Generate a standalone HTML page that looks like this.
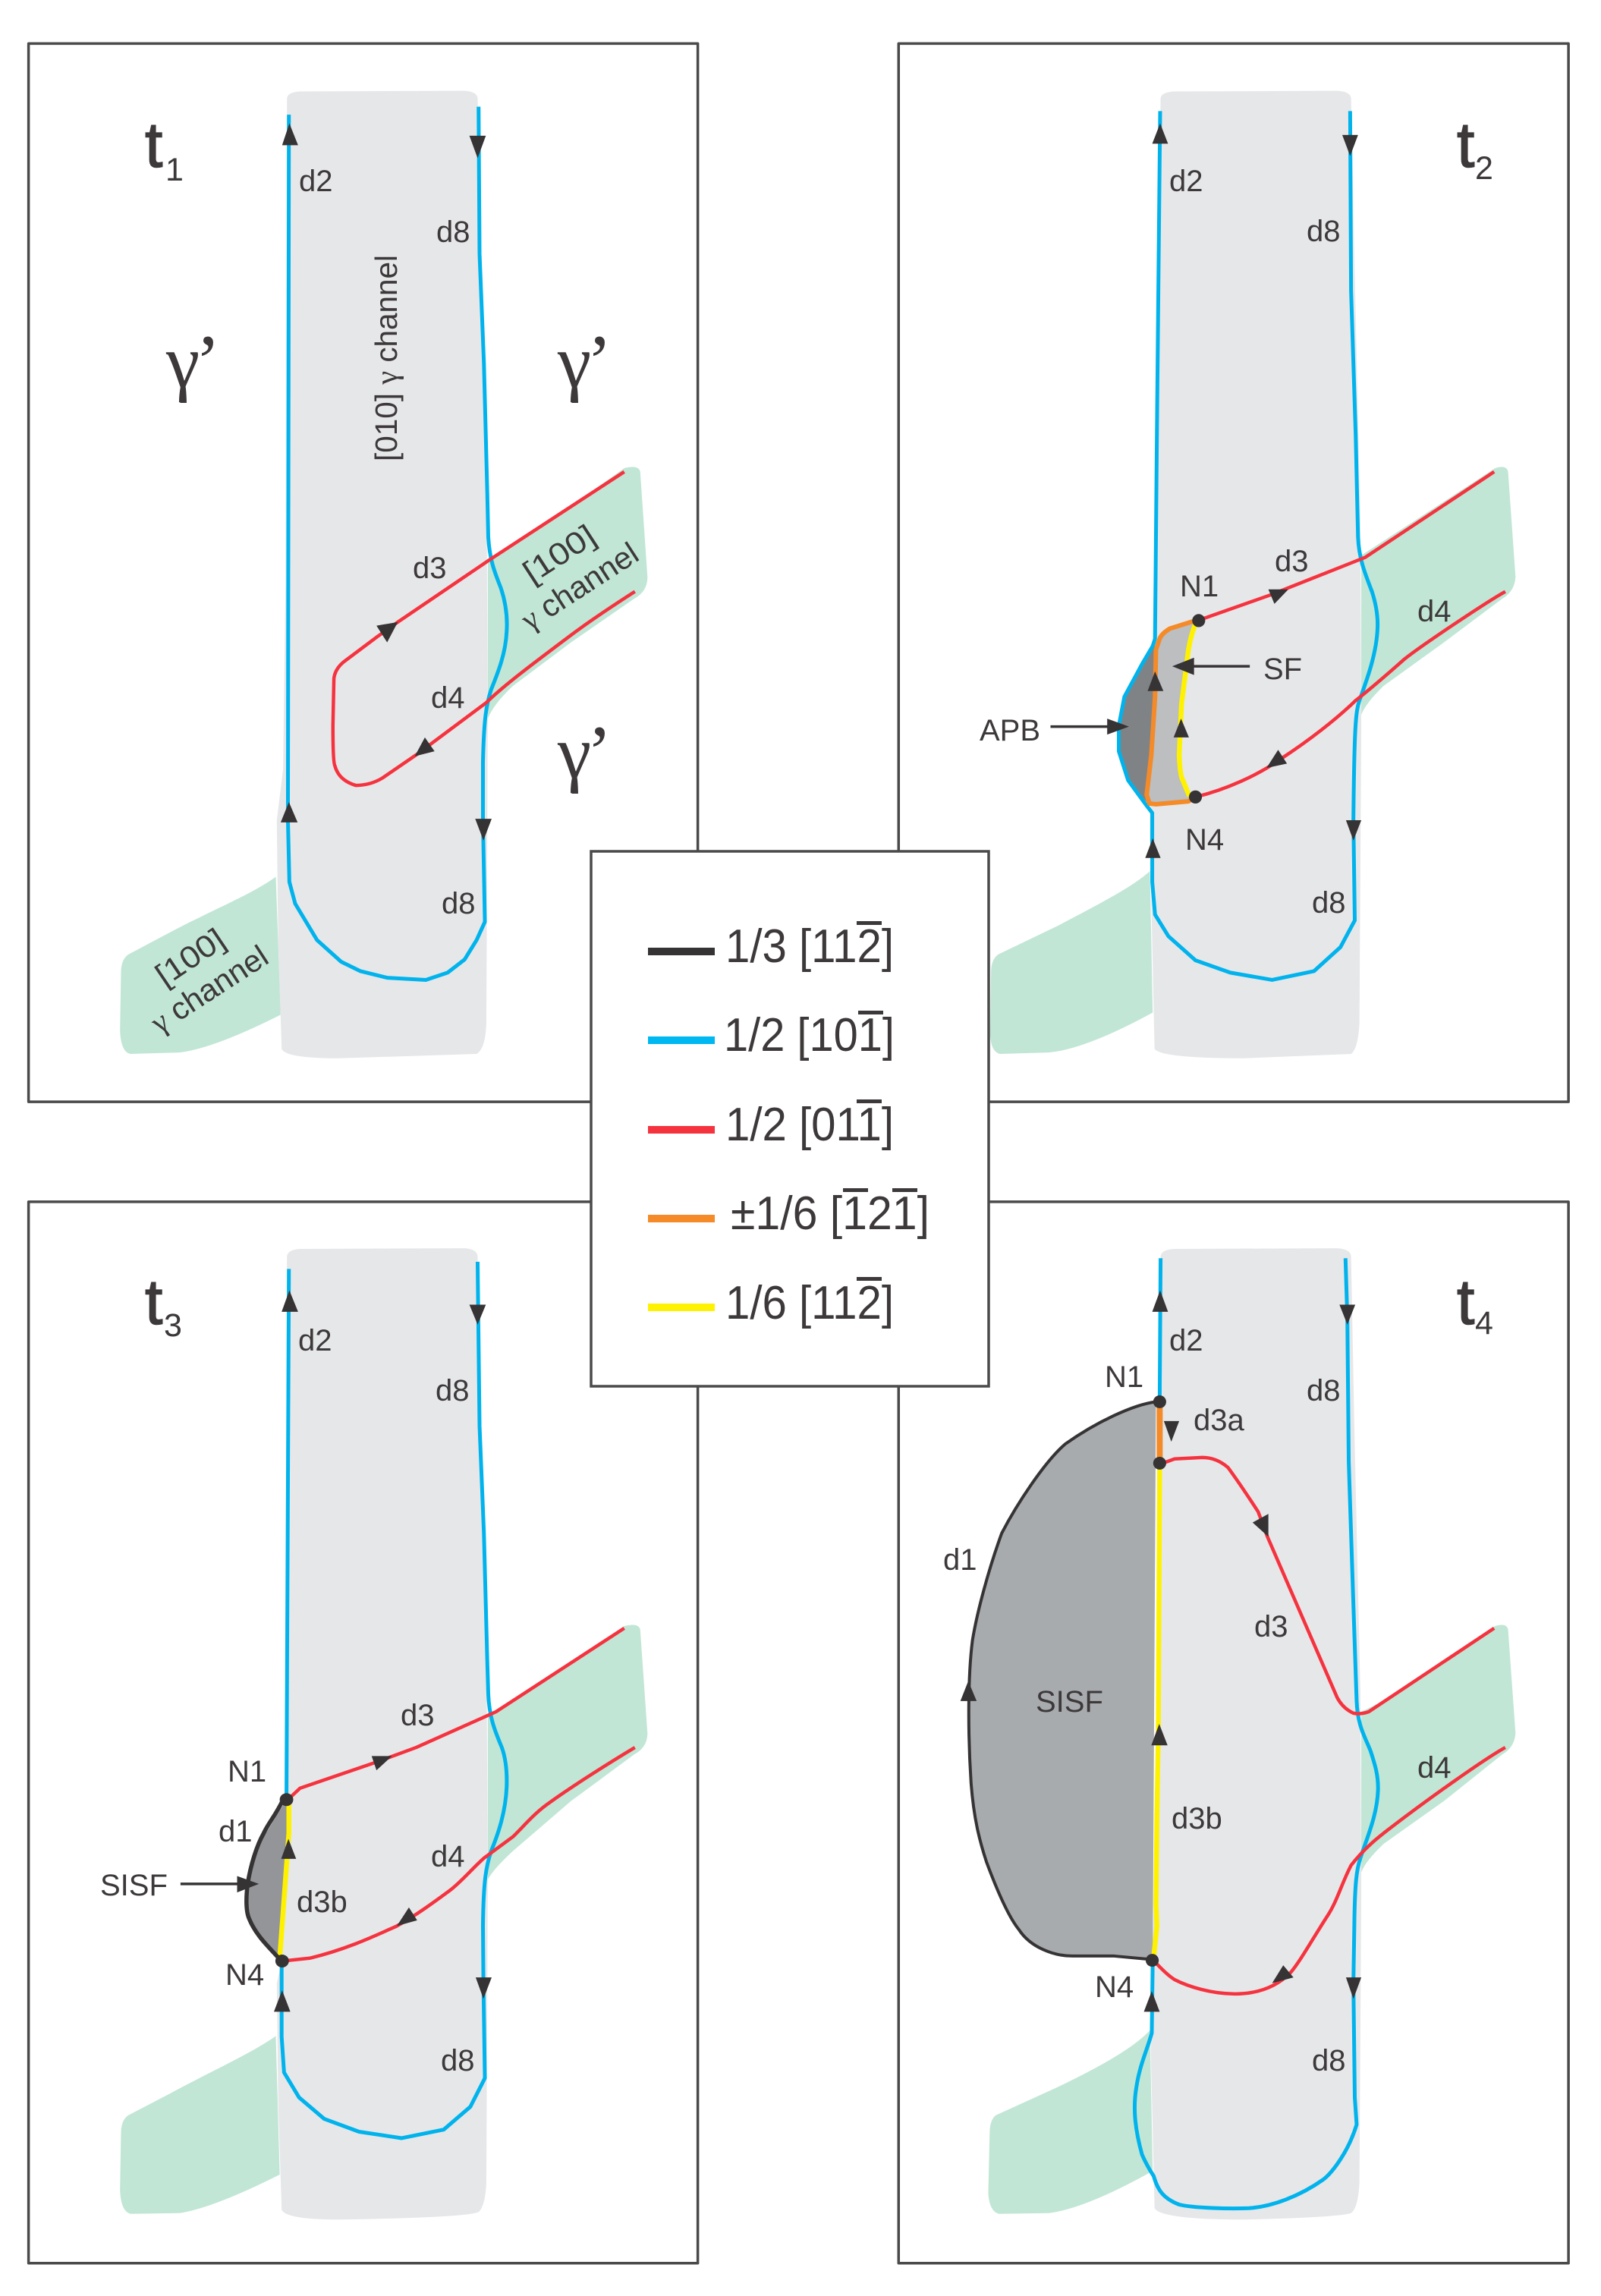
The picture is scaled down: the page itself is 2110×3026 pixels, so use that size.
<!DOCTYPE html>
<html><head><meta charset="utf-8">
<style>
html,body{margin:0;padding:0;background:#fff}
svg{display:block}
.f,.bl,.rd,.or,.ye,.dk,.thin,.sis{vector-effect:non-scaling-stroke;fill:none;stroke-linejoin:round;stroke-linecap:butt}
.f{stroke:#4a4a4a;stroke-width:3.5;fill:#fff}
.bl{stroke:#00b3ec;stroke-width:5}
.rd{stroke:#f5333f;stroke-width:4.5}
.or{stroke:#f58a28;stroke-width:6}
.ye{stroke:#fff200;stroke-width:6.5}
.dk{stroke:#363334;stroke-width:5.5}
.sis{stroke:#363334;stroke-width:4}
.thin{stroke:#363334;stroke-width:3.5}
.g{fill:#e6e7e9}.gr{fill:#c1e6d6}.a{fill:#363334}
text{font-family:"Liberation Sans",sans-serif;fill:#3d393a;font-size:40px}
.t{font-size:84px;stroke:#3d393a;stroke-width:1.5px}.s{font-size:43px}
.gam{font-family:"Liberation Serif",serif;font-size:100px}
.ser{font-family:"Liberation Serif",serif}
.lg{font-size:62px}
.lab{font-size:41px}
</style></head>
<body>
<svg xmlns="http://www.w3.org/2000/svg" width="2110" height="3026" viewBox="0 0 2110 3026">
<rect width="2110" height="3026" fill="#fff"/>

<!-- t1 -->
<g transform="matrix(0.63776,0,0,0.95663,0,0)">
<rect class="f" x="59" y="60" width="1383" height="1458"/>
<path class="gr" d="M1008,770 L1100,735 L1290,645 Q1320,640 1323,650 L1338,795 Q1338,815 1310,825 L1180,885 L1060,945 Q1020,970 1008,990 Z"/>
<path class="gr" d="M570,1208 C520,1232 450,1250 350,1285 L265,1315 Q250,1322 250,1340 L248,1420 Q250,1450 270,1452 L370,1450 Q440,1445 580,1398 Z"/>
<path class="g" d="M593,135 Q595,127 620,126 L960,125 Q985,126 987,135 L992,300 L1005,600 L1008,1000 L1005,1410 Q1003,1445 985,1452 L700,1458 Q590,1458 582,1445 L575,1300 L572,1130 L585,1060 L590,800 Z"/>
<path class="bl" d="M597,158 L595,1130 L598,1215 L610,1245 L655,1295 L705,1325 L745,1338 L800,1347 L880,1350 L925,1340 L960,1322 L985,1295 L1002,1270 L998,1130"/>
<path class="bl" d="M989,147 L991,350 L1000,500 L1007,680 L1009,740 C1012,770 1020,785 1035,810 C1045,830 1049,850 1047,870 C1045,900 1030,925 1015,950 C1005,970 1000,990 998,1050 L998,1130"/>
<path class="rd" d="M1290,650 L1010,772 L820,858 L780,877 L710,912 Q692,922 690,935 L688,1000 Q688,1050 692,1055 Q700,1075 735,1082 Q765,1082 790,1072 L860,1040 L1005,968 C1040,945 1100,915 1180,875 C1220,855 1270,833 1312,815"/>
<polygon class="a" points="583,200 616,200 598,170"/>
<polygon class="a" points="580,1133 615,1133 597,1105"/>
<polygon class="a" points="970,187 1004,187 987,218"/>
<polygon class="a" points="982,1128 1016,1128 999,1158"/>
<polygon class="a" points="778,862 822,857 800,885"/>
<polygon class="a" points="857,1042 878,1016 898,1035"/>
</g>
<text class="t" x="191" y="220">t</text><text class="s" x="218" y="238">1</text>
<text x="394" y="252">d2</text><text x="575" y="319">d8</text><text x="544" y="762">d3</text><text x="568" y="933">d4</text><text x="582" y="1204">d8</text>
<text class="lab" transform="translate(523,608) rotate(-90)" textLength="272" lengthAdjust="spacingAndGlyphs">[010] <tspan class="ser">γ</tspan> channel</text>
<text class="gam" x="219" y="510">γ<tspan dx="-6">’</tspan></text><text class="gam" x="735" y="510">γ<tspan dx="-6">’</tspan></text><text class="gam" x="735" y="1025">γ<tspan dx="-6">’</tspan></text>
<text class="lab" transform="translate(701,770) rotate(-33)" textLength="104" lengthAdjust="spacingAndGlyphs">[100]</text>
<text class="lab" transform="translate(698,832) rotate(-33)" textLength="175" lengthAdjust="spacingAndGlyphs"><tspan class="ser">γ</tspan> channel</text>
<text class="lab" transform="translate(217,1301) rotate(-34)" textLength="100" lengthAdjust="spacingAndGlyphs">[100]</text>
<text class="lab" transform="translate(210,1363) rotate(-33)" textLength="175" lengthAdjust="spacingAndGlyphs"><tspan class="ser">γ</tspan> channel</text>

<!-- t2 -->
<g transform="matrix(0.61224,0,0,0.95663,1150,0)">
<rect class="f" x="56" y="60" width="1442" height="1458"/>
<path class="gr" d="M1052,765 L1170,716 L1340,645 Q1365,640 1368,650 L1384,795 Q1382,815 1355,825 L1230,885 L1100,945 Q1060,970 1052,985 Z"/>
<path class="gr" d="M597,1200 C560,1222 480,1248 400,1275 L270,1315 Q255,1322 255,1340 L253,1425 Q255,1450 275,1452 L380,1450 Q460,1445 603,1395 Z"/>
<path class="g" d="M620,135 Q622,127 650,126 L1000,125 Q1028,126 1030,135 L1037,350 L1050,720 L1052,1000 L1048,1410 Q1045,1445 1030,1452 L800,1458 Q620,1458 607,1445 L602,1300 L597,1150 L603,900 L612,500 Z"/>
<path fill="#808385" d="M605,890 L542,960 L530,1000 L530,1035 L550,1075 L590,1105 L612,890 Z"/>
<path fill="#bcbec0" d="M695,855 L640,866 L618,880 L610,895 L608,960 L600,1040 L590,1095 L596,1107 L610,1108 L680,1104 L682,1097 L668,1075 L660,1040 L665,970 L680,895 Z"/>
<path class="bl" d="M619,153 L612,600 L608,880 L603,890 L580,915 L542,960 L530,1000 L530,1035 L550,1075 L590,1110 L602,1120 L602,1215 L608,1260 L637,1290 L695,1323 L770,1340 L860,1350 L950,1338 L1007,1305 L1038,1268 L1035,1130"/>
<path class="bl" d="M1028,153 L1030,400 L1040,600 L1045,740 C1047,770 1060,790 1075,815 C1085,835 1088,850 1087,865 C1085,900 1065,935 1048,965 C1040,980 1037,1000 1035,1130"/>
<path class="ye" d="M695,860 Q685,875 680,895 L665,970 L660,1040 Q662,1070 668,1075 L682,1097"/>
<path class="or" d="M695,855 L640,866 Q622,873 618,880 L610,895 L608,960 L600,1040 L590,1095 L596,1107 L610,1108 L680,1104 L695,1098"/>
<path class="rd" d="M700,855 L855,820 L1060,768 L1338,650"/>
<path class="rd" d="M1362,815 C1320,830 1180,890 1145,908 C1120,922 1080,945 1040,965 C1000,990 940,1020 880,1045 C830,1068 760,1088 695,1098"/>
<ellipse class="a" cx="702" cy="855" rx="14" ry="9"/><ellipse class="a" cx="695" cy="1098" rx="14" ry="9"/>
<polygon class="a" points="602,198 636,198 619,170"/>
<polygon class="a" points="587,1182 620,1182 603,1155"/>
<polygon class="a" points="1011,186 1045,186 1028,215"/>
<polygon class="a" points="1019,1130 1052,1130 1035,1158"/>
<polygon class="a" points="852,812 895,812 865,832"/>
<polygon class="a" points="848,1058 873,1033 892,1052"/>
<polygon class="a" points="592,952 626,952 608,925"/>
<polygon class="a" points="648,1016 681,1016 664,990"/>
<path class="thin" d="M812,918 L690,918"/><polygon class="a" points="692,906 692,930 645,918"/>
<path class="thin" d="M383,1001 L510,1001"/><polygon class="a" points="505,990 505,1012 552,1001"/>
</g>
<text class="t" x="1920" y="220">t</text><text class="s" x="1944" y="236">2</text>
<text x="1541" y="252">d2</text><text x="1722" y="318">d8</text><text x="1680" y="753">d3</text><text x="1868" y="819">d4</text><text x="1729" y="1203">d8</text>
<text x="1555" y="786">N1</text><text x="1562" y="1120">N4</text><text x="1665" y="895">SF</text><text x="1291" y="976">APB</text>

<!-- t3 -->
<g transform="matrix(0.63776,0,0,0.94133,0,1550)">
<rect class="f" x="59" y="36" width="1383" height="1486"/>
<path class="gr" d="M1008,755 L1100,718 L1290,630 Q1320,625 1323,635 L1338,780 Q1338,800 1310,810 L1180,875 L1060,945 Q1020,970 1008,985 Z"/>
<path class="gr" d="M570,1204 C520,1228 440,1252 350,1285 L265,1315 Q250,1322 250,1340 L248,1420 Q250,1450 270,1453 L370,1452 Q440,1445 578,1398 Z"/>
<path class="g" d="M593,112 Q595,103 620,102 L960,101 Q985,102 987,112 L992,300 L1005,600 L1008,1000 L1005,1410 Q1003,1440 990,1450 Q975,1458 700,1461 Q590,1461 582,1447 L575,1300 L572,1130 L582,1100 L590,800 Z"/>
<path fill="#939598" d="M592,873 L545,925 L520,965 L510,1010 L515,1035 L540,1070 L582,1098 L597,900 Z"/>
<path class="bl" d="M597,130 L592,870"/>
<path class="bl" d="M582,1100 L582,1205 L587,1255 L618,1290 L670,1320 L742,1338 L830,1347 L917,1335 L972,1303 L1002,1263 L999,1130"/>
<path class="bl" d="M987,120 L991,350 L1000,500 L1007,680 L1009,725 C1011,760 1025,780 1037,800 C1045,815 1048,835 1047,855 C1045,890 1030,920 1015,945 C1005,965 999,985 998,1050 L999,1130"/>
<path class="ye" d="M597,880 L597,920 L578,1095"/>
<path class="dk" d="M585,873 C570,895 555,905 545,920 C530,938 518,965 512,990 C508,1010 508,1030 515,1040 C530,1065 560,1082 580,1098"/>
<path class="rd" d="M595,873 L620,857 L780,820 L860,800 L1025,750 L1290,633"/>
<path class="rd" d="M1312,800 C1270,817 1180,855 1130,880 C1100,895 1080,912 1060,925 C1040,935 1020,945 1000,955 C975,970 955,987 930,1000 C900,1015 860,1035 820,1050 C780,1062 720,1082 640,1095 L585,1099"/>
<ellipse class="a" cx="592" cy="873" rx="14" ry="9"/><ellipse class="a" cx="583" cy="1099" rx="14" ry="9"/>
<polygon class="a" points="582,190 616,190 598,160"/>
<polygon class="a" points="566,1170 600,1170 583,1140"/>
<polygon class="a" points="970,180 1004,180 987,208"/>
<polygon class="a" points="983,1122 1016,1122 999,1152"/>
<polygon class="a" points="768,812 810,812 778,832"/>
<polygon class="a" points="820,1050 845,1024 862,1042"/>
<polygon class="a" points="581,956 612,956 596,928"/>
<path class="thin" d="M373,991 L495,991"/><polygon class="a" points="490,980 490,1003 535,991"/>
</g>
<text class="t" x="191" y="1745">t</text><text class="s" x="216" y="1761">3</text>
<text x="393" y="1780">d2</text><text x="574" y="1846">d8</text><text x="528" y="2274">d3</text><text x="568" y="2460">d4</text><text x="391" y="2520">d3b</text><text x="288" y="2427">d1</text><text x="300" y="2348">N1</text><text x="297" y="2616">N4</text><text x="132" y="2498">SISF</text><text x="581" y="2729">d8</text>

<!-- t4 -->
<g transform="matrix(0.61224,0,0,0.94133,1150,1550)">
<rect class="f" x="56" y="36" width="1442" height="1486"/>
<path class="gr" d="M1052,750 L1130,725 L1340,630 Q1365,625 1368,635 L1384,780 Q1382,800 1355,810 L1230,875 L1100,935 Q1060,960 1052,975 Z"/>
<path class="gr" d="M597,1196 C560,1222 480,1250 400,1275 L265,1315 Q252,1322 252,1340 L249,1425 Q252,1450 272,1453 L380,1452 Q460,1445 603,1393 Z"/>
<path class="g" d="M620,112 Q622,103 650,102 L1000,101 Q1028,102 1030,112 L1037,350 L1050,720 L1052,1000 L1048,1410 Q1045,1445 1030,1452 Q1000,1458 800,1461 Q620,1461 607,1445 L598,1200 L610,900 L612,500 Z"/>
<path fill="#a8abae" d="M610,316 C560,320 480,345 415,375 C370,400 310,460 278,500 C250,550 225,610 215,650 C205,700 205,780 212,850 C218,900 230,930 245,960 C265,995 290,1035 315,1055 C340,1080 390,1092 430,1092 L520,1092 L603,1097 Z"/>
<path class="sis" d="M610,316 C560,320 480,345 415,375 C370,400 310,460 278,500 C250,550 225,610 215,650 C205,700 205,780 212,850 C218,900 230,930 245,960 C265,995 290,1035 315,1055 C340,1080 390,1092 430,1092 L520,1092 L603,1097"/>
<path class="bl" d="M620,115 L618,316"/>
<path class="bl" d="M603,1100 L601,1200 C590,1225 575,1245 568,1275 C560,1305 565,1335 580,1370 C590,1385 600,1395 605,1400 C612,1415 620,1430 660,1440 C690,1445 770,1446 810,1445 C860,1443 920,1428 970,1405 C990,1395 1025,1365 1042,1328 L1038,1290 L1035,1130"/>
<path class="bl" d="M1018,115 L1022,200 L1025,400 L1035,600 L1042,735 C1044,770 1060,785 1072,805 C1082,825 1089,840 1088,860 C1086,895 1065,925 1050,955 C1042,970 1038,990 1037,1050 L1035,1130"/>
<path class="ye" d="M618,402 L615,780 L612,900 L610,1020 L612,1050 L605,1095"/>
<path class="or" d="M618,316 L618,402" style="stroke-width:8"/>
<path class="rd" d="M1338,633 L1068,750 Q1050,754 1035,752 Q1012,745 1000,730 L850,505 L830,470 Q790,430 765,408 Q740,394 710,394 L650,396 L625,402"/>
<path class="rd" d="M1362,800 C1320,815 1200,870 1110,915 C1090,925 1060,940 1030,965 C1010,990 1000,1015 980,1035 C950,1065 920,1100 900,1115 C870,1135 830,1145 780,1145 C730,1145 680,1135 650,1125 C630,1117 605,1098 605,1098"/>
<ellipse class="a" cx="618" cy="316" rx="14" ry="9"/><ellipse class="a" cx="618" cy="402" rx="14" ry="9"/><ellipse class="a" cx="602" cy="1098" rx="14" ry="9"/>
<polygon class="a" points="602,190 636,190 619,160"/>
<polygon class="a" points="584,1170 618,1170 601,1141"/>
<polygon class="a" points="1005,180 1039,180 1022,208"/>
<polygon class="a" points="1019,1122 1052,1122 1035,1152"/>
<polygon class="a" points="627,343 660,343 643,372"/>
<polygon class="a" points="818,485 852,473 852,505"/>
<polygon class="a" points="189,735 224,735 206,707"/>
<polygon class="a" points="600,797 635,797 617,767"/>
<polygon class="a" points="860,1130 884,1105 906,1122"/>
</g>
<text class="t" x="1920" y="1745">t</text><text class="s" x="1944" y="1758">4</text>
<text x="1541" y="1780">d2</text><text x="1456" y="1828">N1</text><text x="1573" y="1885">d3a</text><text x="1722" y="1846">d8</text><text x="1243" y="2069">d1</text><text x="1365" y="2256">SISF</text><text x="1653" y="2157">d3</text><text x="1868" y="2343">d4</text><text x="1544" y="2410">d3b</text><text x="1443" y="2632">N4</text><text x="1729" y="2729">d8</text>

<!-- legend -->
<rect x="779" y="1122" width="524" height="705" fill="#fff" stroke="#4a4a4a" stroke-width="3.5"/>
<rect x="854" y="1249" width="88" height="10" fill="#363334"/>
<rect x="854" y="1366" width="88" height="10" fill="#00b8f1"/>
<rect x="854" y="1484" width="88" height="10" fill="#f5333f"/>
<rect x="854" y="1601" width="88" height="10" fill="#f58a28"/>
<rect x="854" y="1718" width="88" height="10" fill="#fff200"/>
<text class="lg" x="956" y="1268" textLength="222" lengthAdjust="spacingAndGlyphs">1/3 [112]</text>
<rect x="1129" y="1214" width="33" height="5" fill="#3d393a"/>
<text class="lg" x="954" y="1385" textLength="225" lengthAdjust="spacingAndGlyphs">1/2 [101]</text>
<rect x="1131" y="1332" width="33" height="5" fill="#3d393a"/>
<text class="lg" x="956" y="1503" textLength="222" lengthAdjust="spacingAndGlyphs">1/2 [011]</text>
<rect x="1129" y="1449" width="33" height="5" fill="#3d393a"/>
<text class="lg" x="963" y="1620" textLength="262" lengthAdjust="spacingAndGlyphs">±1/6 [121]</text>
<rect x="1111" y="1566" width="33" height="5" fill="#3d393a"/>
<rect x="1176" y="1566" width="33" height="5" fill="#3d393a"/>
<text class="lg" x="956" y="1738" textLength="222" lengthAdjust="spacingAndGlyphs">1/6 [112]</text>
<rect x="1129" y="1683" width="33" height="5" fill="#3d393a"/>
</svg>
</body></html>
